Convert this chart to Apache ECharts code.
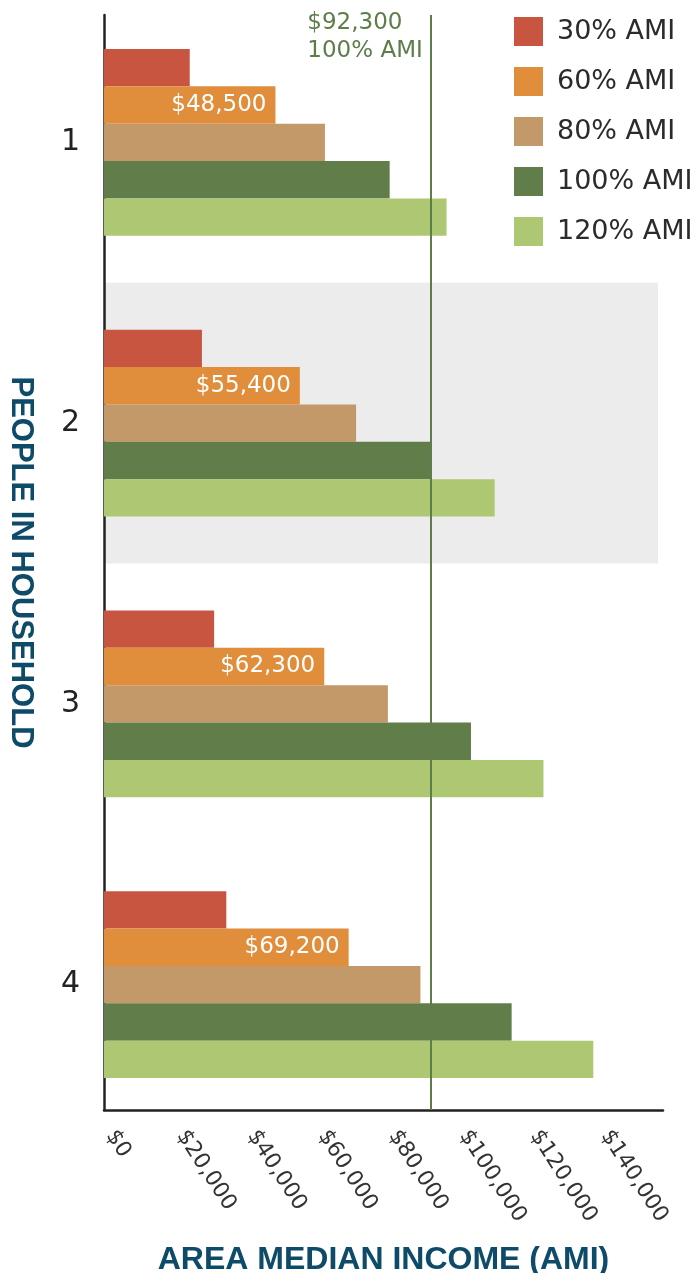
<!DOCTYPE html>
<html>
<head>
<meta charset="utf-8">
<title>Income limits by household size</title>
<script src="https://cdn.jsdelivr.net/npm/echarts@6/dist/echarts.min.js"></script>
<style>
  html, body { margin: 0; padding: 0; background: #ffffff; }
  #chart { width: 694px; height: 1273px; }
</style>
</head>
<body>
<div id="chart"></div>
<script>
// Household sizes (people in household)
const categories = ['1', '2', '3', '4'];

// Income limits per household size, by share of area median income
const ami30  = [24250, 27700, 31150, 34600];
const ami60  = [48500, 55400, 62300, 69200];
const ami80  = [62500, 71300, 80300, 89500];
const ami100 = [80800, 92300, 103800, 115300];
const ami120 = [96900, 110500, 124300, 138400];

const seriesNames = ['30% AMI', '60% AMI', '80% AMI', '100% AMI', '120% AMI'];
const seriesColors = ['#c8553f', '#e08e3b', '#c3996a', '#617e4a', '#aec773'];

// Reference line: 100% AMI
const amiLineValue = 92300;
const amiLineText = ['$92,300', '100% AMI'];

const textFont = 'DejaVu Sans';
const titleFont = 'Liberation Sans';
const titleColor = '#0e4b69';
const lineGreen = '#5e7d4a';

function money(v) {
  return '$' + Number(v).toLocaleString('en-US');
}

const seriesData = [ami30, ami60, ami80, ami100, ami120];

const barSeries = seriesData.map(function (vals, i) {
  const s = {
    name: seriesNames[i],
    type: 'bar',
    xAxisIndex: 0,
    yAxisIndex: 0,
    data: vals,
    barGap: '0%',
    barCategoryGap: '33.4%',
    itemStyle: { color: seriesColors[i] },
    label: { show: false }
  };
  if (i === 1) {
    s.label = {
      show: true,
      position: 'insideRight',
      distance: 9,
      color: '#ffffff',
      fontFamily: textFont,
      fontSize: 23,
      formatter: function (p) { return money(p.value); }
    };
  }
  return s;
});

const chart = echarts.init(document.getElementById('chart'), null, { renderer: 'canvas' });

chart.setOption({
  animation: false,
  backgroundColor: '#ffffff',
  legend: {
    data: seriesNames,
    orient: 'vertical',
    left: 509,
    top: 12,
    icon: 'rect',
    itemWidth: 29,
    itemHeight: 29,
    itemGap: 21,
    textStyle: {
      fontFamily: textFont,
      fontSize: 27,
      color: '#2b2b2b',
      padding: [0, 0, 0, 9]
    }
  },
  grid: [
    // bars and shaded band
    { left: 104, right: 36, top: 2, height: 1123, outerBoundsMode: 'none', containLabel: false },
    // axes frame and reference line
    { left: 104, right: 31, top: 15, bottom: 163, outerBoundsMode: 'none', containLabel: false }
  ],
  xAxis: [
    {
      gridIndex: 0,
      type: 'value',
      min: 0,
      max: 156700,
      show: false
    },
    {
      gridIndex: 1,
      type: 'value',
      min: 0,
      max: 158100,
      interval: 20000,
      axisLine: { show: true, lineStyle: { color: '#222222', width: 2.5 } },
      axisTick: { show: false },
      splitLine: { show: false },
      axisLabel: {
        rotate: -57,
        margin: 12,
        padding: [0, 0, 0, 12],
        showMaxLabel: false,
        fontFamily: textFont,
        fontSize: 22,
        color: '#333333',
        formatter: function (v) { return money(v); }
      },
      name: 'AREA MEDIAN INCOME (AMI)',
      nameLocation: 'middle',
      nameGap: 134,
      nameTextStyle: {
        fontFamily: titleFont,
        fontWeight: 'bold',
        fontSize: 32,
        color: titleColor
      }
    }
  ],
  yAxis: [
    {
      gridIndex: 0,
      type: 'category',
      inverse: true,
      data: categories,
      axisLine: { show: false },
      axisTick: { show: false },
      axisLabel: {
        margin: 24,
        fontFamily: textFont,
        fontSize: 30,
        color: '#222222'
      },
      splitArea: {
        show: true,
        areaStyle: { color: ['rgba(255,255,255,0)', '#ececec', 'rgba(255,255,255,0)', 'rgba(255,255,255,0)'] }
      }
    },
    {
      gridIndex: 1,
      type: 'value',
      min: 0,
      max: 1,
      axisLine: { show: true, lineStyle: { color: '#222222', width: 2.5 } },
      axisTick: { show: false },
      axisLabel: { show: false },
      splitLine: { show: false },
      name: 'PEOPLE IN HOUSEHOLD',
      nameLocation: 'middle',
      nameRotate: -90,
      nameGap: 68,
      nameTextStyle: {
        fontFamily: titleFont,
        fontWeight: 'bold',
        fontSize: 31,
        color: titleColor
      }
    }
  ],
  series: barSeries.concat([
    {
      name: 'amiLine',
      type: 'line',
      xAxisIndex: 1,
      yAxisIndex: 1,
      data: [],
      silent: true,
      markLine: {
        silent: true,
        symbol: 'none',
        label: { show: false },
        lineStyle: { color: lineGreen, width: 2, type: 'solid' },
        data: [{ xAxis: amiLineValue }]
      },
      markPoint: {
        silent: true,
        symbol: 'circle',
        symbolSize: 0,
        data: [{ coord: [amiLineValue, 1] }],
        label: {
          show: true,
          position: 'inside',
          align: 'left',
          verticalAlign: 'top',
          offset: [-123, -6],
          fontFamily: textFont,
          fontSize: 23,
          lineHeight: 28,
          color: lineGreen,
          formatter: function () { return amiLineText.join('\n'); }
        }
      }
    }
  ])
});
</script>
</body>
</html>
